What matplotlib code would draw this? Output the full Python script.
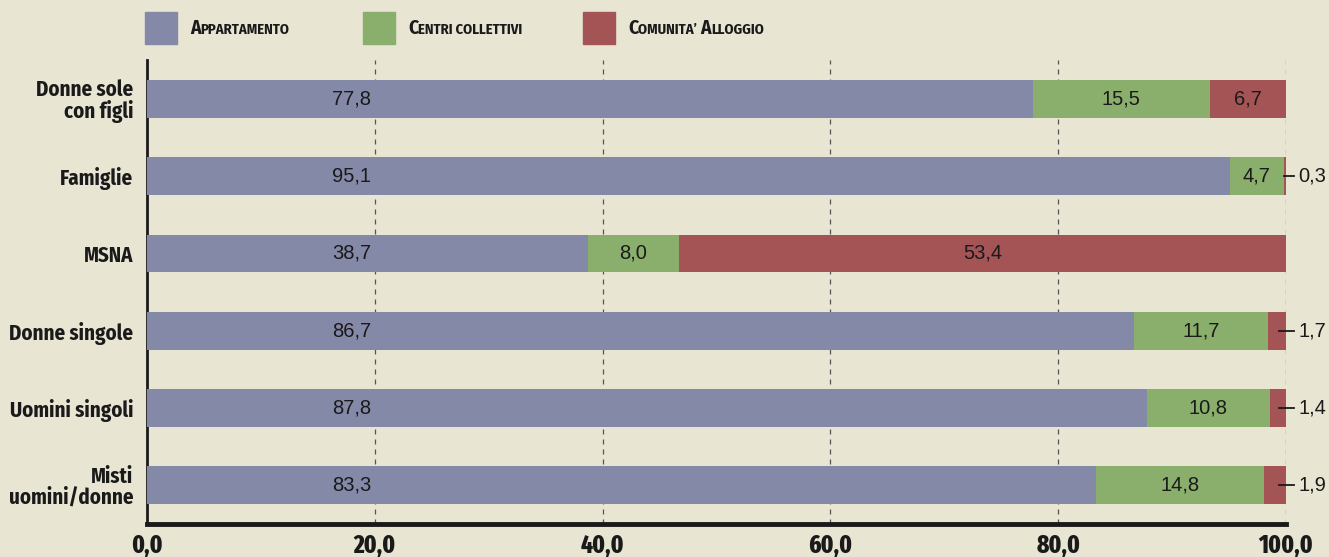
import matplotlib
matplotlib.use('Agg')
import matplotlib.pyplot as plt
import numpy as np

# Dati
categorie = ['Donne sole\ncon figli', 'Famiglie', 'MSNA', 'Donne singole',
             'Uomini singoli', 'Misti\nuomini/donne']
appartamento = [77.8, 95.1, 38.7, 86.7, 87.8, 83.3]
centri_collettivi = [15.5, 4.7, 8.0, 11.7, 10.8, 14.8]
comunita_alloggio = [6.7, 0.3, 53.4, 1.7, 1.4, 1.9]
xticks = [0, 20, 40, 60, 80, 100]

# Stile
sfondo = '#e8e5d3'
col_app = '#8589a8'
col_cen = '#8aae6c'
col_com = '#a55455'
narrow = ['Fira Sans Condensed', 'Roboto Condensed', 'Liberation Sans', 'DejaVu Sans']
xnarrow = ['Fira Sans Extra Condensed', 'Fira Sans Condensed', 'Liberation Sans', 'DejaVu Sans']
regular = ['Liberation Sans', 'DejaVu Sans']


def fmt(v):
    return f'{v:.1f}'.replace('.', ',')


fig = plt.figure(figsize=(13.29, 5.57), dpi=100, facecolor=sfondo)
ax = fig.add_axes([0.1106, 0.0592, 0.8570, 0.833])
ax.set_facecolor(sfondo)

y = np.arange(len(categorie))
h = 0.49
left2 = np.array(appartamento)
left3 = left2 + np.array(centri_collettivi)

ax.barh(y, appartamento, height=h, color=col_app, zorder=3)
ax.barh(y, centri_collettivi, left=left2, height=h, color=col_cen, zorder=3)
ax.barh(y, comunita_alloggio, left=left3, height=h, color=col_com, zorder=3)

# Etichette valori
for i in range(len(categorie)):
    ax.text(18, y[i], fmt(appartamento[i]), ha='center', va='center',
            fontsize=14.5, family=regular, color='#1a1a1a', zorder=4)
    ax.text(left2[i] + centri_collettivi[i] / 2, y[i], fmt(centri_collettivi[i]),
            ha='center', va='center', fontsize=14.5, family=regular,
            color='#1a1a1a', zorder=4)
    v = comunita_alloggio[i]
    if v >= 5:
        ax.text(left3[i] + v / 2, y[i], fmt(v), ha='center', va='center',
                fontsize=14.5, family=regular, color='#1a1a1a', zorder=4)
    else:
        ax.plot([100 - min(v, 1.2) / 2, 100.7], [y[i], y[i]], color='#1a1a1a',
                lw=1.3, zorder=5, clip_on=False)
        ax.text(101.1, y[i], fmt(v), ha='left', va='center', fontsize=14.5,
                family=regular, color='#1a1a1a', clip_on=False)

# Assi
ax.set_xlim(0, 100)
ax.set_ylim(5.505, -0.505)
ax.set_yticks(y)
ax.set_yticklabels(categorie, fontsize=15, fontweight='bold', family=narrow,
                   linespacing=0.95, color='#1a1a1a')
ax.set_xticks(xticks)
ax.set_xticklabels([fmt(t) for t in xticks], fontsize=18, fontweight='heavy',
                   family=xnarrow, color='#1a1a1a')
ax.tick_params(axis='both', length=0)
ax.tick_params(axis='y', pad=10)
ax.tick_params(axis='x', pad=7)
for t in xticks[1:]:
    ax.axvline(t, color='#555555', lw=0.9, linestyle=(0, (4, 4)), zorder=1)
for s in ['top', 'right']:
    ax.spines[s].set_visible(False)
ax.spines['left'].set_linewidth(2)
ax.spines['left'].set_color('#1a1a1a')
ax.spines['bottom'].set_linewidth(3.5)
ax.spines['bottom'].set_color('#1a1a1a')

# Legenda (maiuscoletto)
renderer = fig.canvas.get_renderer()


def maiuscoletto(x_px, y_px, pezzi):
    x = x_px
    for testo, size in pezzi:
        t = fig.text(x / 1329, 1 - y_px / 557, testo, fontsize=size,
                     fontweight='bold', family=narrow, color='#1a1a1a',
                     ha='left', va='baseline')
        bb = t.get_window_extent(renderer)
        x += bb.width


legenda = [
    (145, col_app, [('A', 14), ('PPARTAMENTO', 10.5)]),
    (363, col_cen, [('C', 14), ('ENTRI COLLETTIVI', 10.5)]),
    (583, col_com, [('C', 14), ('OMUNITA\u2019 ', 10.5), ('A', 14), ('LLOGGIO', 10.5)]),
]
for x0, col, pezzi in legenda:
    fig.patches.append(plt.Rectangle((x0 / 1329, 1 - 44 / 557), 32 / 1329,
                                     32 / 557, transform=fig.transFigure,
                                     color=col, figure=fig))
    maiuscoletto(x0 + 45, 34, pezzi)

fig.savefig('out.png', dpi=100, facecolor=sfondo)
